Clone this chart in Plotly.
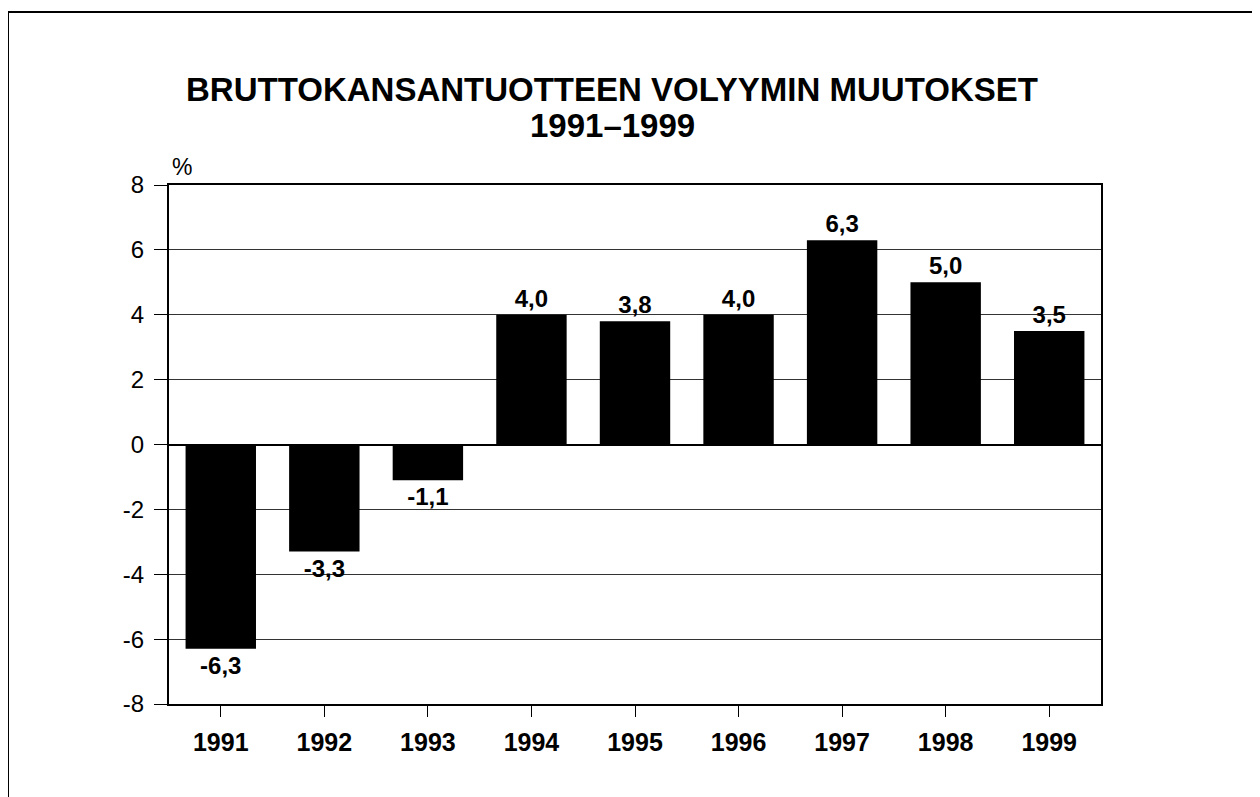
import plotly.graph_objects as go

years = ["1991", "1992", "1993", "1994", "1995", "1996", "1997", "1998", "1999"]
changes = [-6.3, -3.3, -1.1, 4.0, 3.8, 4.0, 6.3, 5.0, 3.5]
y_ticks = [-8, -6, -4, -2, 0, 2, 4, 6, 8]
y_tick_labels = ["-8", "-6", "-4", "-2", "0", "2", "4", "6", "8"]
title_line1 = "BRUTTOKANSANTUOTTEEN VOLYYMIN MUUTOKSET"
title_line2 = "1991–1999"
unit_label = "%"

labels = [f"{v:.1f}".replace(".", ",") for v in changes]

FONT = "Liberation Sans, Arial, sans-serif"

W, H = 1260, 797
ML, MR, MT, MB = 161, 167, 177, 101

fig = go.Figure(
    go.Bar(
        x=years,
        y=changes,
        marker=dict(color="black", line=dict(width=0)),
        text=labels,
        textposition="outside",
        cliponaxis=False,
        constraintext="none",
        textfont=dict(family=FONT, size=24, color="black", weight="bold"),
    )
)

fig.update_layout(
    width=W,
    height=H,
    paper_bgcolor="white",
    plot_bgcolor="white",
    margin=dict(l=ML, r=MR, t=MT, b=MB),
    bargap=0.32,
    showlegend=False,
    font=dict(family=FONT, color="black"),
)

fig.update_xaxes(
    type="category",
    showline=True,
    linecolor="black",
    linewidth=2,
    mirror=True,
    ticks="outside",
    ticklen=11,
    tickwidth=1,
    tickcolor="black",
    ticklabelstandoff=4,
    tickfont=dict(family=FONT, size=25, color="black", weight="bold"),
    showgrid=False,
)

fig.update_yaxes(
    range=[-8, 8],
    tickvals=y_ticks,
    ticktext=y_tick_labels,
    showline=True,
    linecolor="black",
    linewidth=2,
    mirror=True,
    ticks="outside",
    ticklen=13,
    tickwidth=1,
    tickcolor="black",
    ticklabelstandoff=5,
    tickfont=dict(family=FONT, size=24, color="black"),
    showgrid=True,
    gridcolor="#333333",
    gridwidth=1,
    zeroline=True,
    zerolinecolor="black",
    zerolinewidth=2,
)


def px_x(px):
    return (px - ML) / (W - ML - MR)


def px_y(py):
    return (H - MB - py) / (H - MT - MB)


fig.add_annotation(
    text=f"<b>{title_line1}</b>", xref="paper", yref="paper",
    x=px_x(604), y=px_y(81), xanchor="center", yanchor="middle",
    showarrow=False, font=dict(family=FONT, size=33, color="black"),
)
fig.add_annotation(
    text=f"<b>{title_line2}</b>", xref="paper", yref="paper",
    x=px_x(604), y=px_y(117), xanchor="center", yanchor="middle",
    showarrow=False, font=dict(family=FONT, size=33, color="black"),
)
fig.add_annotation(
    text=unit_label, xref="paper", yref="paper",
    x=px_x(174), y=px_y(159), xanchor="center", yanchor="middle",
    showarrow=False, font=dict(family=FONT, size=23, color="black"),
)

# outer frame (top and left edges visible in the reference)
fig.add_shape(type="line", xref="paper", yref="paper",
              x0=px_x(0), x1=px_x(W + 5), y0=px_y(4), y1=px_y(4),
              line=dict(color="black", width=2))
fig.add_shape(type="line", xref="paper", yref="paper",
              x0=px_x(0), x1=px_x(0), y0=px_y(4), y1=px_y(H + 5),
              line=dict(color="black", width=2))

fig.write_html("out.html")
